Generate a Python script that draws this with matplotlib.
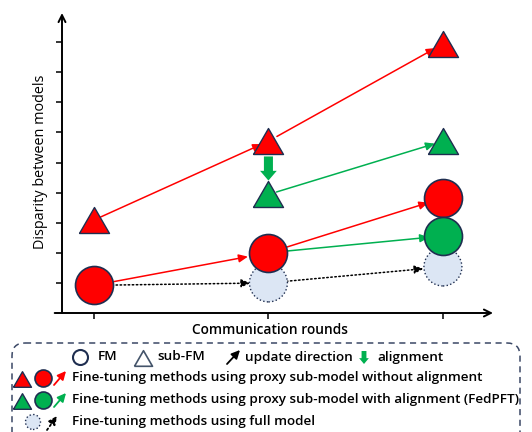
import matplotlib.pyplot as plt
from matplotlib.patches import FancyBboxPatch

plt.rcParams['font.family'] = ['Open Sans', 'DejaVu Sans']

# data
rounds = [0, 1, 2]
fm_no_align = [0.92, 2.0, 3.82]      # red circles
fm_align = [None, None, 2.56]        # green circle
fm_full = [None, 1.0, 1.53]          # light circles (full model)
sub_no_align = [3.09, 5.71, 8.94]    # red triangles
sub_align = [None, 3.94, 5.71]       # green triangles

legend_rows = ["Fine-tuning methods using proxy sub-model without alignment",
               "Fine-tuning methods using proxy sub-model with alignment (FedPFT)",
               "Fine-tuning methods using full model"]

RED = '#ff0000'
GREEN = '#00b050'
LIGHT = '#dce6f4'
EDGE = '#1f2e50'
TRI = [(-1, -0.866), (1, -0.866), (0, 0.866), (-1, -0.866)]

fig = plt.figure(figsize=(5.32, 4.32), dpi=100)
ax = fig.add_axes([62 / 532, 119 / 432, 431 / 532, 300 / 432])
ax.set_xlim(-0.183, 2.287)
ax.set_ylim(0, 9.97)
for s in ax.spines.values():
    s.set_visible(False)
ax.set_xticks(rounds)
ax.set_yticks(range(1, 10))
ax.tick_params(axis='both', direction='out', length=4, width=1.1, labelleft=False, labelbottom=False)

# axis arrows
ax.annotate('', xy=(1, 0), xytext=(-0.017, 0), xycoords='axes fraction',
            arrowprops=dict(arrowstyle='->,head_length=0.5,head_width=0.25', lw=1.4, color='black', shrinkA=0, shrinkB=0))
ax.annotate('', xy=(0, 1), xytext=(0, 0), xycoords='axes fraction',
            arrowprops=dict(arrowstyle='->,head_length=0.5,head_width=0.25', lw=1.4, color='black', shrinkA=0, shrinkB=0))

ax.set_ylabel('Disparity between models', fontsize=10.4, va='center', fontweight='medium')
ax.yaxis.set_label_coords(-0.049, 0.503)
ax.set_xlabel('Communication rounds', fontsize=9.9, va='center', fontweight='semibold')
ax.xaxis.set_label_coords(0.483, -0.057)


def arrow(p, q, color, sa, sb, ls='-'):
    ax.annotate('', xy=q, xytext=p,
                arrowprops=dict(arrowstyle='-|>,head_length=0.45,head_width=0.2', mutation_scale=12,
                                color=color, lw=1.1, linestyle=ls, shrinkA=sa, shrinkB=sb), zorder=2)


# update arrows
arrow((rounds[0], sub_no_align[0]), (rounds[1], sub_no_align[1]), RED, 4, 5)
arrow((rounds[1], sub_no_align[1]), (rounds[2], sub_no_align[2]), RED, 7, 6)
arrow((rounds[1], sub_align[1]), (rounds[2], sub_align[2]), GREEN, 6, 6)
arrow((rounds[0], fm_no_align[0]), (rounds[1], fm_no_align[1]), RED, 13, 15)
arrow((rounds[1], fm_no_align[1]), (rounds[2], fm_no_align[2]), RED, 14, 11)
arrow((rounds[1], fm_no_align[1]), (rounds[2], fm_align[2]), GREEN, 14, 10)
arrow((rounds[0], fm_no_align[0]), (rounds[1], fm_full[1]), 'black', 13, 13, ls=':')
arrow((rounds[1], fm_full[1]), (rounds[2], fm_full[2]), 'black', 13, 14, ls=':')

# alignment arrow
ax.annotate('', xy=(rounds[1], sub_align[1]), xytext=(rounds[1], sub_no_align[1]),
            arrowprops=dict(arrowstyle='simple,head_length=0.7,head_width=1.2,tail_width=0.65', mutation_scale=10,
                            color=GREEN, lw=0, shrinkA=11, shrinkB=10), zorder=2)

csize = (38 * 0.72) ** 2
tsize = (30 * 0.72) ** 2
ax.scatter(rounds[1:], fm_full[1:], s=csize, c=LIGHT, edgecolors=EDGE, linewidths=1.0, linestyle=':', zorder=3)
ax.scatter(rounds, fm_no_align, s=csize, c=RED, edgecolors=EDGE, linewidths=1.2, zorder=4)
ax.scatter(rounds[2:], fm_align[2:], s=csize, c=GREEN, edgecolors=EDGE, linewidths=1.2, zorder=5)
ax.scatter(rounds, sub_no_align, s=tsize, c=RED, marker=TRI, edgecolors=EDGE, linewidths=1.0, zorder=4)
ax.scatter(rounds[1:], sub_align[1:], s=tsize, c=GREEN, marker=TRI, edgecolors=EDGE, linewidths=1.0, zorder=4)

# legend panel (pixel coordinates)
lg = fig.add_axes([0, 0, 1, 1], zorder=-1)
lg.set_xlim(0, 532)
lg.set_ylim(432, 0)
lg.axis('off')
lg.add_patch(FancyBboxPatch((12, 343), 508, 110, boxstyle='round,pad=0,rounding_size=13',
                            fc='none', ec='#3b4866', lw=1.1, ls=(0, (4, 3))))

fs = 9.7
lc = (15 * 0.72) ** 2
lt = (18 * 0.72) ** 2


def small_arrow(p, q, color, ls='-'):
    lg.annotate('', xy=q, xytext=p,
                arrowprops=dict(arrowstyle='-|>,head_length=0.45,head_width=0.22', mutation_scale=11,
                                color=color, lw=1.3, linestyle=ls, shrinkA=0, shrinkB=0))


y = 357
lg.scatter([80], [y], s=lc, c='white', edgecolors=EDGE, linewidths=1.5)
lg.text(98, y, 'FM', fontsize=fs, va='center', fontweight='semibold')
lg.scatter([143], [y + 1], s=lt, c='white', marker=TRI, edgecolors='#44546a', linewidths=1.2)
lg.text(157, y, 'sub-FM', fontsize=fs, va='center', fontweight='semibold')
small_arrow((227, 364), (240, 350), 'black')
lg.text(245, y, 'update direction', fontsize=fs, va='center', fontweight='semibold')
lg.annotate('', xy=(364, 364), xytext=(364, 351),
            arrowprops=dict(arrowstyle='simple,head_length=0.6,head_width=1.0,tail_width=0.5', mutation_scale=7,
                            color=GREEN, lw=0, shrinkA=0, shrinkB=0))
lg.text(377, y, 'alignment', fontsize=fs, va='center', fontweight='semibold')

for i, (col, ty) in enumerate([(RED, 378), (GREEN, 400)]):
    lg.scatter([22], [ty + 1], s=lt, c=col, marker=TRI, edgecolors=EDGE, linewidths=1.0)
    lg.scatter([43], [ty], s=(17 * 0.72) ** 2, c=col, edgecolors=EDGE, linewidths=1.2)
    small_arrow((54, ty + 7), (66, ty - 7), col)
    lg.text(72, ty, legend_rows[i], fontsize=fs, va='center', fontweight='semibold')

ty = 422
lg.scatter([33], [ty], s=lc, c=LIGHT, edgecolors=EDGE, linewidths=1.0, linestyle=':')
small_arrow((47, ty + 8), (57, ty - 6), 'black', ls=':')
lg.text(72, ty, legend_rows[2], fontsize=fs, va='center', fontweight='semibold')

fig.savefig('out.png', dpi=100)
